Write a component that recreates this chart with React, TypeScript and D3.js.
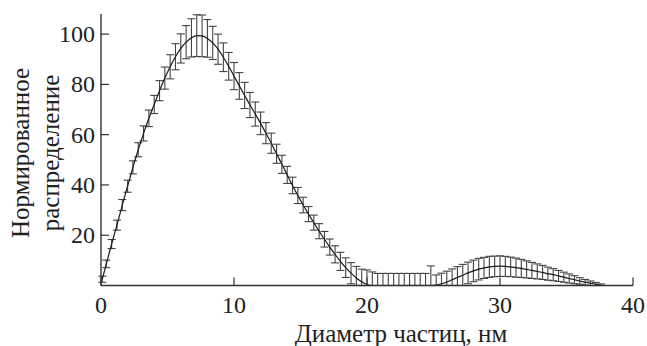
import * as d3 from 'd3';

// particle diameter, nm
const sizes = [
  0.1, 0.4, 0.8, 1.2, 1.6, 2.0, 2.4, 2.8, 3.2, 3.6, 4.0, 4.4, 4.8, 5.2, 5.6, 6.0, 6.4, 6.8, 7.2, 7.6,
  8.0, 8.4, 8.8, 9.2, 9.6, 10.0, 10.4, 10.8, 11.2, 11.6, 12.0, 12.4, 12.8, 13.2, 13.6, 14.0, 14.4, 14.8,
  15.2, 15.6, 16.0, 16.4, 16.8, 17.2, 17.6, 18.0, 18.4, 18.8, 19.2, 19.6, 20.0, 20.4, 20.8, 21.2, 21.6,
  22.0, 22.4, 22.8, 23.2, 23.6, 24.0, 24.4, 24.8, 25.2, 25.6, 26.0, 26.4, 26.8, 27.2, 27.6, 28.0, 28.4,
  28.8, 29.2, 29.6, 30.0, 30.4, 30.8, 31.2, 31.6, 32.0, 32.4, 32.8, 33.2, 33.6, 34.0, 34.4, 34.8, 35.2,
  35.6, 36.0, 36.4, 36.8, 37.2, 37.6,
];

// normalized distribution (mean)
const distribution = [
  2.5, 8.6, 16.5, 24, 32, 39.5, 47, 54, 60.5, 66.5, 72, 77.5, 82.5, 87, 91, 94.3, 96.8, 98.5, 99.4, 99.3,
  98.3, 96.5, 94, 90.8, 87.2, 83.3, 79.4, 75.6, 71.8, 68.2, 64.5, 60.6, 56.6, 52.4, 48.2, 44, 39.8, 35.8,
  32, 28.4, 25, 21.6, 18.4, 15.3, 12.4, 9.6, 7.1, 4.9, 3.0, 1.5, 0.4, 0, 0, 0, 0,
  0, 0, 0, 0, 0, 0, 0, 0, 0.2, 0.7, 1.4, 2.3, 3.2, 4.1, 5.0, 5.8, 6.5,
  7.0, 7.4, 7.6, 7.7, 7.6, 7.4, 7.1, 6.8, 6.4, 6.0, 5.6, 5.2, 4.7, 4.3, 3.8, 3.3, 2.8,
  2.3, 1.8, 1.3, 0.9, 0.5, 0.1,
];

// error bar half-widths
const errors = [
  1.2, 1.5, 1.8, 2, 2.2, 2.4, 2.6, 2.8, 3, 3.3, 3.6, 4, 4.4, 4.8, 5.2, 5.8, 6.6, 7.6, 8.3, 8.3,
  7.5, 6.6, 6, 5.7, 5.5, 5.4, 5.3, 5.2, 5, 4.8, 4.5, 4.2, 4, 3.8, 3.6, 3.4, 3.3, 3.2,
  3.1, 3, 3, 3, 3.1, 3.2, 3.4, 3.6, 3.9, 4.2, 4.6, 5, 5.8, 5.4, 4.8, 4.8, 4.8,
  4.8, 4.8, 4.8, 4.8, 4.8, 4.8, 4.8, 7.8, 4.0, 4.2, 4.3, 4.3, 4.3, 4.3, 4.3, 4.3, 4.3,
  4.2, 4.2, 4.1, 4.1, 4.0, 3.9, 3.8, 3.6, 3.4, 3.2, 3.0, 2.8, 2.6, 2.4, 2.2, 2.0, 1.8,
  1.6, 1.3, 1.1, 0.9, 0.7, 0.5,
];

const xTicks = [0, 10, 20, 30, 40];
const yTicks = [20, 40, 60, 80, 100];

const W = 647;
const H = 346;
const left = 101;
const right = 633;
const bottom = 285.5;
const top = 14;
const font = "'Liberation Serif'";
const textColor = '#222';

export default function App() {
  const x = d3.scaleLinear().domain([0, 40]).range([left, right]);
  const y = d3.scaleLinear().domain([0, 108]).range([bottom, top]);

  const pts = sizes.map((s, i) => ({ s, m: distribution[i], e: errors[i] }));

  const line = d3
    .line<{ s: number; m: number }>()
    .x((d) => x(d.s))
    .y((d) => y(d.m))
    .curve(d3.curveMonotoneX);

  const cap = 4;

  return (
    <svg
      width={W}
      height={H}
      viewBox={`0 0 ${W} ${H}`}
      style={{ position: 'absolute', left: 0, top: 0, display: 'block', fontFamily: font }}
    >
      {/* error bars */}
      <g stroke="#444" strokeWidth={1.1} fill="none">
        {pts.map((d, i) => {
          const cx = x(d.s);
          const y1 = y(d.m + d.e);
          const y0 = y(Math.max(0, d.m - d.e));
          return (
            <g key={i}>
              <line x1={cx} x2={cx} y1={y0} y2={y1} />
              <line x1={cx - cap} x2={cx + cap} y1={y1} y2={y1} />
              <line x1={cx - cap} x2={cx + cap} y1={y0} y2={y0} />
            </g>
          );
        })}
      </g>

      {/* mean curve */}
      <path d={line(pts) ?? ''} fill="none" stroke="#1a1a1a" strokeWidth={1.2} />

      {/* axes, ticks inside */}
      <g stroke="#333">
        <line x1={left} x2={right} y1={bottom} y2={bottom} strokeWidth={1.4} />
        <line x1={left} x2={left} y1={bottom} y2={top} strokeWidth={1.4} />
        {xTicks.map((t) => (
          <line key={`xt${t}`} x1={x(t)} x2={x(t)} y1={bottom} y2={bottom - 8} strokeWidth={1.2} />
        ))}
        {yTicks.map((t) => (
          <line key={`yt${t}`} x1={left} x2={left + 8} y1={y(t)} y2={y(t)} strokeWidth={1.2} />
        ))}
      </g>

      <g fill={textColor} style={{ fontFamily: font, fontSize: '24px' }}>
        {xTicks.map((t) => (
          <text key={`xl${t}`} x={x(t)} y={313} textAnchor="middle">
            {t}
          </text>
        ))}
        {yTicks.map((t) => (
          <text key={`yl${t}`} x={left - 6} y={y(t) + 8} textAnchor="end">
            {t}
          </text>
        ))}
      </g>
      <g fill={textColor} style={{ fontFamily: font, fontSize: '25px' }}>
        <text x={401} y={342} textAnchor="middle">
          Диаметр частиц, нм
        </text>
        <text transform="rotate(-90)" textAnchor="middle">
          <tspan x={-153} y={29}>
            Нормированное
          </tspan>
          <tspan x={-153} y={59}>
            распределение
          </tspan>
        </text>
      </g>
    </svg>
  );
}
